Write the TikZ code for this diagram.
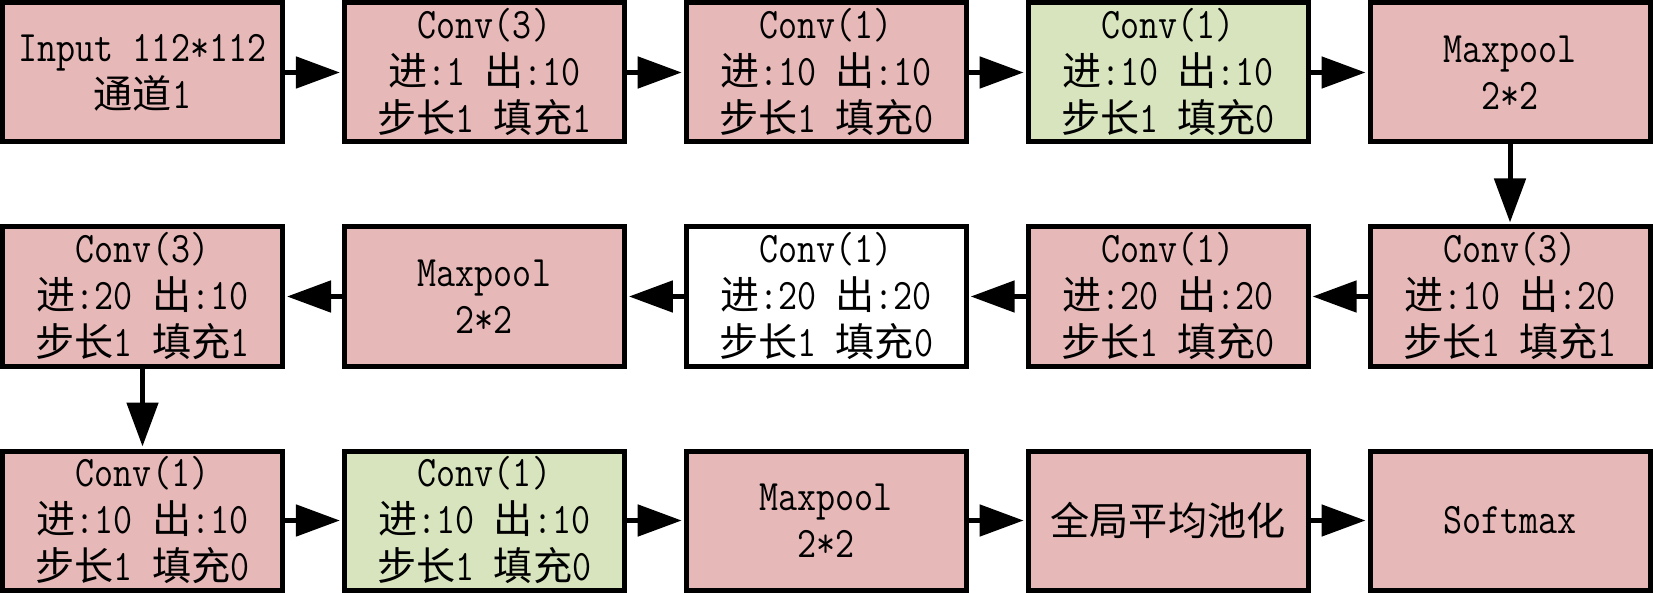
\documentclass[tikz,border=0pt]{standalone}
\usepackage{fontspec}
\setmonofont{Latin Modern Mono}[FakeStretch=0.85]
\newfontfamily\cjk[Scale=0.9]{Noto Sans CJK SC}
\usetikzlibrary{arrows.meta}
\definecolor{pinkfill}{RGB}{230,184,183}
\definecolor{greenfill}{RGB}{215,228,189}
\tikzset{
  box/.style={draw=black, line width=5pt, minimum width=280pt, minimum height=139pt,
    inner sep=0pt, align=center, font=\ttfamily\fontsize{43.5}{47}\selectfont},
  pinkbox/.style={box, fill=pinkfill},
  greenbox/.style={box, fill=greenfill},
  whitebox/.style={box, fill=white},
  arr/.style={line width=5pt, -{Triangle[length=44pt,width=31pt]}, shorten >=2pt}
}
\begin{document}
\begin{tikzpicture}[x=1pt,y=-1pt]
\useasboundingbox (0,0) rectangle (1653,593);
% row 1
\node[pinkbox] (a1) at (142.5,72.5) {Input 112*112\\{\cjk 通道}1};
\node[pinkbox] (a2) at (484.4,72.5) {Conv(3)\\{\cjk 进}:1 {\cjk 出}:10\\{\cjk 步长}1 {\cjk 填充}1};
\node[pinkbox] (a3) at (826.2,72.5) {Conv(1)\\{\cjk 进}:10 {\cjk 出}:10\\{\cjk 步长}1 {\cjk 填充}0};
\node[greenbox] (a4) at (1168.1,72.5) {Conv(1)\\{\cjk 进}:10 {\cjk 出}:10\\{\cjk 步长}1 {\cjk 填充}0};
\node[pinkbox] (a5) at (1510,72.5) {Maxpool\\2*2};
% row 2
\node[pinkbox] (b5) at (1510,296.5) {Conv(3)\\{\cjk 进}:10 {\cjk 出}:20\\{\cjk 步长}1 {\cjk 填充}1};
\node[pinkbox] (b4) at (1168.1,296.5) {Conv(1)\\{\cjk 进}:20 {\cjk 出}:20\\{\cjk 步长}1 {\cjk 填充}0};
\node[whitebox] (b3) at (826.2,296.5) {Conv(1)\\{\cjk 进}:20 {\cjk 出}:20\\{\cjk 步长}1 {\cjk 填充}0};
\node[pinkbox] (b2) at (484.4,296.5) {Maxpool\\2*2};
\node[pinkbox] (b1) at (142.5,296.5) {Conv(3)\\{\cjk 进}:20 {\cjk 出}:10\\{\cjk 步长}1 {\cjk 填充}1};
% row 3
\node[pinkbox] (c1) at (142.5,520.5) {Conv(1)\\{\cjk 进}:10 {\cjk 出}:10\\{\cjk 步长}1 {\cjk 填充}0};
\node[greenbox] (c2) at (484.4,520.5) {Conv(1)\\{\cjk 进}:10 {\cjk 出}:10\\{\cjk 步长}1 {\cjk 填充}0};
\node[pinkbox] (c3) at (826.2,520.5) {Maxpool\\2*2};
\node[pinkbox] (c4) at (1168.1,520.5) {{\cjk 全局平均池化}};
\node[pinkbox] (c5) at (1510,520.5) {Softmax};
% arrows
\draw[arr] (a1) -- (a2);
\draw[arr] (a2) -- (a3);
\draw[arr] (a3) -- (a4);
\draw[arr] (a4) -- (a5);
\draw[arr] (a5) -- (b5);
\draw[arr] (b5) -- (b4);
\draw[arr] (b4) -- (b3);
\draw[arr] (b3) -- (b2);
\draw[arr] (b2) -- (b1);
\draw[arr] (b1) -- (c1);
\draw[arr] (c1) -- (c2);
\draw[arr] (c2) -- (c3);
\draw[arr] (c3) -- (c4);
\draw[arr] (c4) -- (c5);
\end{tikzpicture}
\end{document}
